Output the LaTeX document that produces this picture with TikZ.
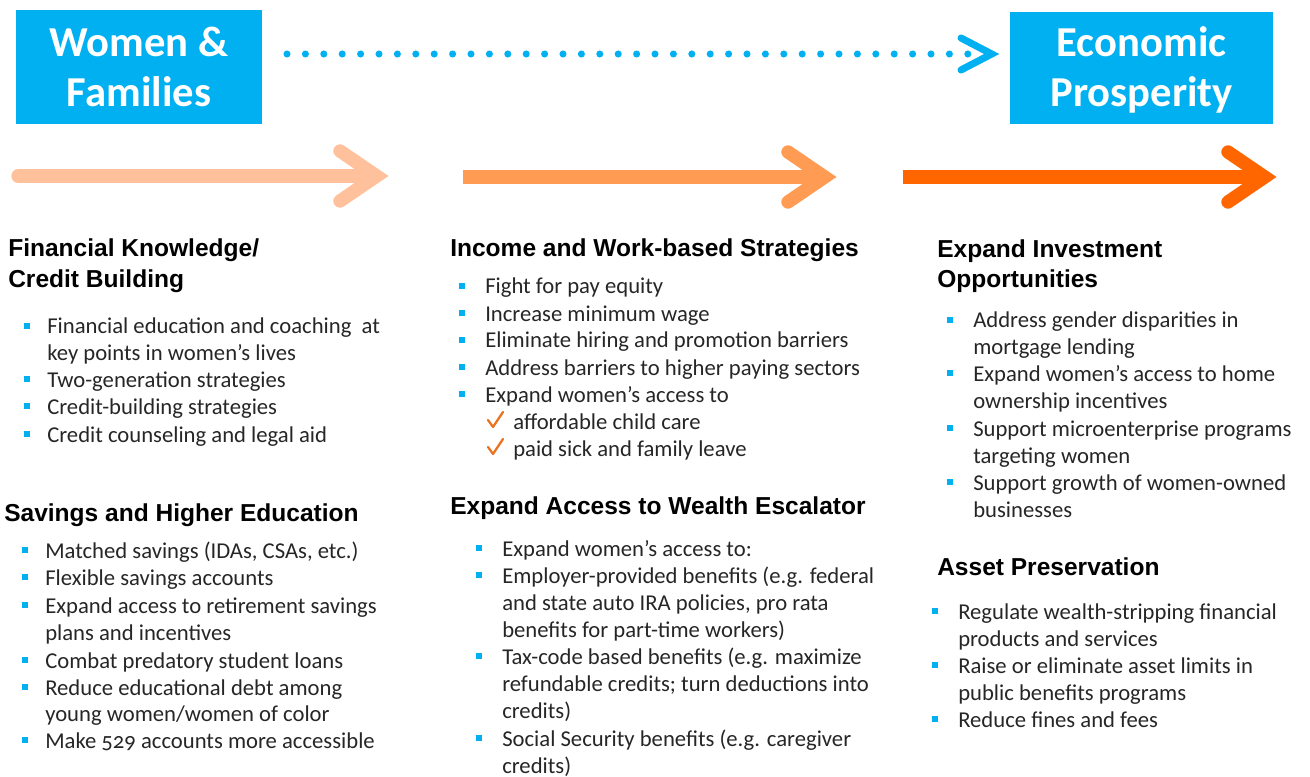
\documentclass[tikz,border=0pt]{standalone}
\usepackage{fontspec}
\setmainfont{Carlito}[Numbers=OldStyle]
\newfontfamily\headfont{Liberation Sans}
\definecolor{boxblue}{HTML}{00B0F0}
\definecolor{peach}{HTML}{FFC19B}
\definecolor{midorange}{HTML}{FF9B52}
\definecolor{darkorange}{HTML}{FF6600}
\definecolor{tickorange}{HTML}{E9731F}
\definecolor{bodygray}{HTML}{262626}

% one bulleted line: name, bullet x, text x, baseline y, text
\newcommand\bitem[5]{%
  \node[bsq] (#1-b) at (#2,#4-8) {};
  \node[body] (#1) at (#3,#4) {#5};}
% continuation line of a bullet
\newcommand\bline[4]{\node[body] (#1) at (#2,#3) {#4};}
% ticked sub-item: name, tick x, text x, baseline y, text
\newcommand\bcheck[5]{%
  \draw[tick] (#2,#4-9) -- (#2+5,#4-2) -- (#2+15,#4-17);
  \node[body] (#1) at (#3,#4) {#5};}
% bold section heading line
\newcommand\bhead[4]{\node[head] (#1) at (#2,#3) {#4};}

\begin{document}
\begin{tikzpicture}[x=0.75pt,y=-0.75pt,
  body/.style={anchor=base west,inner sep=0pt,text=bodygray,
    font=\fontsize{17}{20}\selectfont},
  head/.style={anchor=base west,inner sep=0pt,text=black,
    font=\headfont\bfseries\fontsize{18.4}{22}\selectfont},
  bsq/.style={rectangle,fill=boxblue,minimum size=4.5pt,inner sep=0pt},
  tick/.style={tickorange,line width=1.7pt,line cap=round,line join=round},
  titlebox/.style={rectangle,fill=boxblue,inner sep=0pt},
  titletext/.style={anchor=base,inner sep=0pt,text=white,
    font=\bfseries\fontsize{32}{38}\selectfont},
  bigarrow/.style={line width=10pt},
  barb/.style={line width=10pt,line cap=round,line join=miter}
]
\useasboundingbox (0,0) rectangle (1310,777);

% title boxes
\node[titlebox,minimum width=184.5pt,minimum height=85.5pt] (wf) at (139,67) {};
\node[titletext] (wf1) at (139,57) {Women \&};
\node[titletext] (wf2) at (139,107) {Families};
\node[titlebox,minimum width=197.25pt,minimum height=84pt] (ep) at (1141.5,68) {};
\node[titletext] (ep1) at (1141.5,57) {Economic};
\node[titletext] (ep2) at (1141.5,107) {Prosperity};

% dotted link between the boxes
\coordinate (ds) at (287,54);
\coordinate (de) at (968,54);
\coordinate (dt) at (997,54);
\draw[boxblue,line width=5.3pt,line cap=round,dash pattern=on 0pt off 13.8pt] (ds) -- (de);
\draw[boxblue,line width=5.3pt,line cap=round,line join=miter]
  ([shift={(-36,-16)}]dt) -- ([xshift=-4]dt) -- ([shift={(-36,16)}]dt);

% three stage arrows
\coordinate (a1s) at (18,176);  \coordinate (a1e) at (386,176);
\coordinate (a2s) at (463,177); \coordinate (a2e) at (834,177);
\coordinate (a3s) at (903,177); \coordinate (a3e) at (1274,177);
\draw[peach,bigarrow,line cap=round] (a1s) -- ([xshift=-14]a1e);
\draw[peach,barb] ([shift={(-46,-25)}]a1e) -- ([xshift=-7]a1e) -- ([shift={(-46,25)}]a1e);
\draw[midorange,bigarrow] (a2s) -- ([xshift=-14]a2e);
\draw[midorange,barb] ([shift={(-46,-25)}]a2e) -- ([xshift=-7]a2e) -- ([shift={(-46,25)}]a2e);
\draw[darkorange,bigarrow] (a3s) -- ([xshift=-14]a3e);
\draw[darkorange,barb] ([shift={(-46,-25)}]a3e) -- ([xshift=-7]a3e) -- ([shift={(-46,25)}]a3e);

% column 1
\bhead{h11}{8}{257}{Financial Knowledge/}
\bhead{h12}{8}{288}{Credit Building}
\bitem{c1a}{27}{47}{334}{Financial education and coaching\ \ at}
\bline{c1a2}{47}{360}{key points in women’s lives}
\bitem{c1b}{27}{47}{387}{Two-generation strategies}
\bitem{c1c}{27}{47}{414}{Credit-building strategies}
\bitem{c1d}{27}{47}{442}{Credit counseling and legal aid}

\bhead{h13}{4}{521}{Savings and Higher Education}
\bitem{c1e}{25}{45}{558}{Matched savings (IDAs, CSAs, etc.)}
\bitem{c1f}{25}{45}{585}{Flexible savings accounts}
\bitem{c1g}{25}{45}{613}{Expand access to retirement savings}
\bline{c1g2}{45}{640}{plans and incentives}
\bitem{c1h}{25}{45}{668}{Combat predatory student loans}
\bitem{c1i}{25}{45}{695}{Reduce educational debt among}
\bline{c1i2}{45}{721}{young women/women of color}
\bitem{c1j}{25}{45}{748}{Make 529 accounts more accessible}

% column 2
\bhead{h21}{450}{257}{Income and Work-based Strategies}
\bitem{c2a}{462}{485}{294}{Fight for pay equity}
\bitem{c2b}{462}{485}{321}{Increase minimum wage}
\bitem{c2c}{462}{485}{348}{Eliminate hiring and promotion barriers}
\bitem{c2d}{462}{485}{375}{Address barriers to higher paying sectors}
\bitem{c2e}{462}{485}{402}{Expand women’s access to}
\bcheck{c2f}{488}{513}{429}{affordable child care}
\bcheck{c2g}{488}{513}{456}{paid sick and family leave}

\bhead{h22}{450}{514}{Expand Access to Wealth Escalator}
\bitem{c2h}{479}{502}{556}{Expand women’s access to:}
\bitem{c2i}{479}{502}{583}{Employer-provided benefits (e.g. federal}
\bline{c2i2}{502}{610}{and state auto IRA policies, pro rata}
\bline{c2i3}{502}{637}{benefits for part-time workers)}
\bitem{c2j}{479}{502}{664}{Tax-code based benefits (e.g. maximize}
\bline{c2j2}{502}{691}{refundable credits; turn deductions into}
\bline{c2j3}{502}{718}{credits)}
\bitem{c2k}{479}{502}{746}{Social Security benefits (e.g. caregiver}
\bline{c2k2}{502}{773}{credits)}

% column 3
\bhead{h31}{937}{258}{Expand Investment}
\bhead{h32}{937}{288}{Opportunities}
\bitem{c3a}{950}{973}{328}{Address gender disparities in}
\bline{c3a2}{973}{354}{mortgage lending}
\bitem{c3b}{950}{973}{381}{Expand women’s access to home}
\bline{c3b2}{973}{408}{ownership incentives}
\bitem{c3c}{950}{973}{436}{Support microenterprise programs}
\bline{c3c2}{973}{463}{targeting women}
\bitem{c3d}{950}{973}{490}{Support growth of women-owned}
\bline{c3d2}{973}{517}{businesses}

\bhead{h33}{937}{575}{Asset Preservation}
\bitem{c3e}{935}{958}{619}{Regulate wealth-stripping financial}
\bline{c3e2}{958}{646}{products and services}
\bitem{c3f}{935}{958}{673}{Raise or eliminate asset limits in}
\bline{c3f2}{958}{700}{public benefits programs}
\bitem{c3g}{935}{958}{727}{Reduce fines and fees}
\end{tikzpicture}
\end{document}
